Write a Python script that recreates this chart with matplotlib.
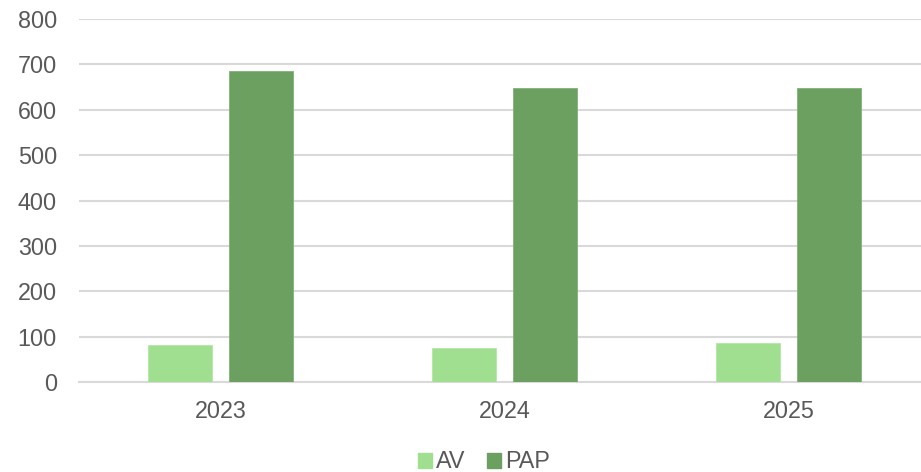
import numpy as np
import matplotlib
matplotlib.use("Agg")
import matplotlib.pyplot as plt
import matplotlib.patches as mpatches

years = ["2023", "2024", "2025"]
av_values = [82, 75, 86]
pap_values = [686, 647, 648]

AV_COLOR = "#a0de90"
PAP_COLOR = "#6ba061"
TEXT_COLOR = "#595959"
GRID_COLOR = "#d9d9d9"

plt.rcParams["font.family"] = ["Liberation Sans", "DejaVu Sans"]

W, H = 921, 472
fig = plt.figure(figsize=(W / 100, H / 100), dpi=100)
# plot area runs slightly past the right edge, as in the reference
ax = fig.add_axes([78.5 / W, (H - 382) / H, 852 / W, (382 - 19) / H])

x = np.arange(len(years))
bar_w = 0.225
offset = 0.1426
ax.bar(x - offset, av_values, width=bar_w, color=AV_COLOR, edgecolor="#b3e6a6", linewidth=0.6, label="AV", zorder=3)
ax.bar(x + offset, pap_values, width=bar_w, color=PAP_COLOR, edgecolor="#80b078", linewidth=0.6, label="PAP", zorder=3)

ax.set_xlim(-0.5, len(years) - 0.5)
ax.set_ylim(0, 800)
ax.set_yticks(range(0, 801, 100))
ax.set_xticks(x)
ax.set_xticklabels(years)
ax.grid(axis="y", color=GRID_COLOR, linewidth=1.5, zorder=0)
ax.set_axisbelow(True)
for s in ["top", "right", "left"]:
    ax.spines[s].set_visible(False)
ax.spines["bottom"].set_color(GRID_COLOR)
ax.spines["bottom"].set_linewidth(1.5)
ax.tick_params(axis="both", length=0, labelsize=16.8, colors=TEXT_COLOR)
ax.tick_params(axis="y", pad=15.5)
ax.tick_params(axis="x", pad=13)

patches = [mpatches.Patch(color=AV_COLOR, label="AV"), mpatches.Patch(color=PAP_COLOR, label="PAP")]
fig.legend(handles=patches, loc="center", bbox_to_anchor=(484 / W, 1 - 462 / H), ncol=2,
           frameon=False, fontsize=16.8, labelcolor=TEXT_COLOR, handlelength=0.6, handleheight=0.6,
           handletextpad=0.2, columnspacing=0.9, borderpad=0)

fig.savefig("out.png", dpi=100)
